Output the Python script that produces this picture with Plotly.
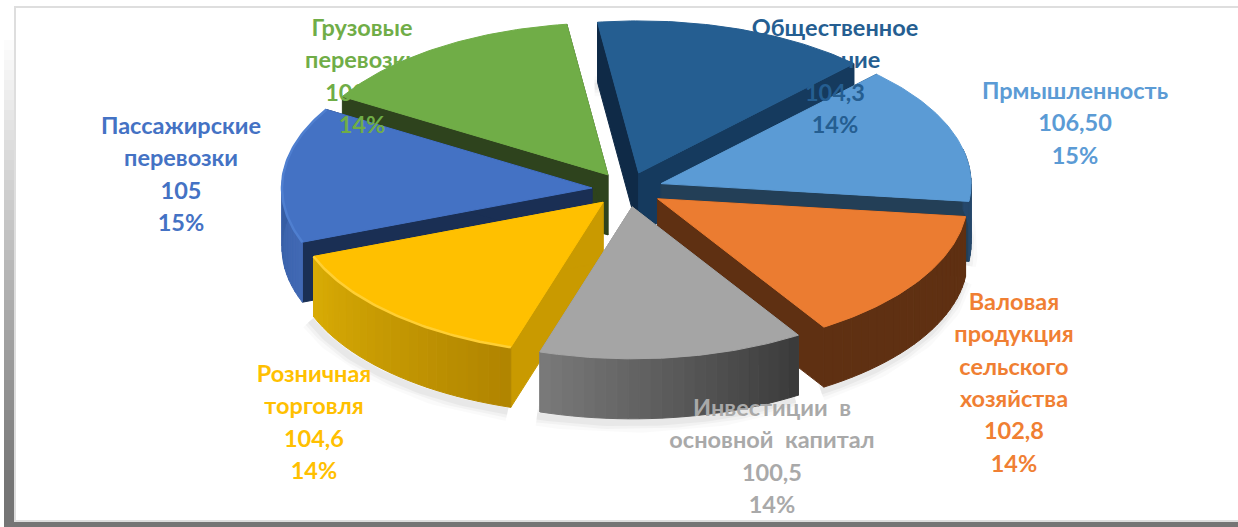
import math
import numpy as np
import plotly.graph_objects as go

# ---- data ----
CATEGORIES = ["Прмышленность", "Валовая продукция сельского хозяйства", "Инвестиции в основной капитал",
              "Розничная торговля", "Пассажирские перевозки", "Грузовые перевозки", "Общественное питание"]
VALUES = [106.5, 102.8, 100.5, 104.6, 105.0, 103.7, 104.3]
VALUE_LABELS = ["106,50", "102,8", "100,5", "104,6", "105", "103,70", "104,3"]
PERCENT_LABELS = ["15%", "14%", "14%", "14%", "15%", "14%", "14%"]
NAME_LINES = [["Прмышленность"], ["Валовая", "продукция", "сельского", "хозяйства"],
              ["Инвестиции\u00a0\u00a0в", "основной\u00a0\u00a0капитал"], ["Розничная", "торговля"],
              ["Пассажирские", "перевозки"], ["Грузовые", "перевозки"], ["Общественное", "питание"]]

# ---- style ----
TOP = ["#5B9BD5", "#EB7C31", "#A5A5A5", "#FFC000", "#4472C4", "#70AD47", "#255E91"]
TEXT = ["#5B9BD5", "#F07F33", "#A9A9A9", "#FFC000", "#4472C4", "#70AD47", "#255E91"]
WALL_START = ["#233F57", "#5F3012", "#4A4A4A", "#C99A00", "#1A2F54", "#2E431D", "#0F2A47"]
WALL_END = ["#233F57", "#5F3012", "#8A8A8A", "#C99A00", "#1A2F54", "#2E431D", "#153A5E"]
ARC_L = ["#26486B", "#5F3012", "#7A7A7A", "#D9AC05", "#2F5597", "#3F6B2A", "#1C4770"]
ARC_R = ["#26486B", "#5F3012", "#3A3A3A", "#B08400", "#4169B5", "#3F6B2A", "#1C4770"]
BEVEL = [None, None, None, "#FFCF33", "#4F7FD0", None, None]
# label placement (centre x, first-line y, line pitch)
LABEL_X = [1075, 1014, 772, 314, 181, 362, 835]
LABEL_Y = [93, 304, 410, 376, 128, 30, 30]
LABEL_PITCH = 32.4
FONT = "Lato"
FONT_SIZE = 23.5

W, H = 1238, 527
CX, CY, RX, RY = 627.5, 189.5, 310, 152
DEPTH, PULL, START = 60, 0.115, 44
PAINT_ORDER = [6, 5, 0, 4, 1, 3, 2]


def pt(a, r=1.0, ox=0.0, oy=0.0):
    return ox + r * RX * math.sin(math.radians(a)), oy - r * RY * math.cos(math.radians(a))


def mix(c1, c2, f):
    a = [int(c1[i:i + 2], 16) for i in (1, 3, 5)]
    b = [int(c2[i:i + 2], 16) for i in (1, 3, 5)]
    return "#%02x%02x%02x" % tuple(round(p + (q - p) * f) for p, q in zip(a, b))


def poly(fig, xs, ys, fill, line=None, width=1):
    fig.add_trace(go.Scatter(x=xs, y=ys, mode="lines", fill="toself", fillcolor=fill,
                             line=dict(color=line or fill, width=width), hoverinfo="skip", showlegend=False))


fig = go.Figure()

# slice angles come from the values
total = sum(VALUES)
spans = [v / total * 360 for v in VALUES]
starts = [START + sum(spans[:i]) for i in range(len(spans))]
geo = []
for a0, sp in zip(starts, spans):
    mid = a0 + sp / 2
    ax, ay = pt(mid, PULL, CX, CY)
    geo.append((a0, a0 + sp, ax, ay))

# soft shadow under the pie
for i in PAINT_ORDER:
    a0, a1, ax, ay = geo[i]
    if 270 < (a0 + a1) / 2 % 360 or (a0 + a1) / 2 % 360 < 10:
        continue
    arc = [pt(a, 1.0, ax, ay + DEPTH) for a in np.linspace(a0, a1, 50)]
    for w, al in ((20, .02), (13, .03), (7, .04)):
        fig.add_trace(go.Scatter(x=[p[0] - 3 for p in arc], y=[p[1] + 4 for p in arc], mode="lines",
                                 line=dict(color=f"rgba(0,0,0,{al})", width=w),
                                 hoverinfo="skip", showlegend=False))

# slices, back to front
for i in PAINT_ORDER:
    a0, a1, ax, ay = geo[i]
    p0 = pt(a0, 1.0, ax, ay)
    p1 = pt(a1, 1.0, ax, ay)
    poly(fig, [ax, p0[0], p0[0], ax, ax], [ay, p0[1], p0[1] + DEPTH, ay + DEPTH, ay], WALL_START[i])
    poly(fig, [ax, p1[0], p1[0], ax, ax], [ay, p1[1], p1[1] + DEPTH, ay + DEPTH, ay], WALL_END[i])
    # curved outer wall, shaded by bands; only the part that faces the viewer
    angles = np.linspace(a0, a1, 25)
    for k in range(len(angles) - 1):
        if math.cos(math.radians((angles[k] + angles[k + 1]) / 2)) > 0.22:
            continue
        q0 = pt(angles[k], 1.0, ax, ay)
        q1 = pt(angles[k + 1], 1.0, ax, ay)
        c = mix(ARC_R[i], ARC_L[i], (k + .5) / (len(angles) - 1))
        poly(fig, [q0[0], q1[0], q1[0], q0[0], q0[0]],
             [q0[1], q1[1], q1[1] + DEPTH, q0[1] + DEPTH, q0[1]], c)
    # top face
    arc = [pt(a, 1.0, ax, ay) for a in np.linspace(a0, a1, 60)]
    poly(fig, [ax] + [p[0] for p in arc] + [ax], [ay] + [p[1] for p in arc] + [ay], TOP[i])
    if BEVEL[i]:
        fig.add_trace(go.Scatter(x=[p[0] for p in arc], y=[p[1] for p in arc], mode="lines",
                                 line=dict(color=BEVEL[i], width=2.5), hoverinfo="skip", showlegend=False))

# labels on top, one text point per line
for i, names in enumerate(NAME_LINES):
    lines = names + [VALUE_LABELS[i], PERCENT_LABELS[i]]
    fig.add_trace(go.Scatter(
        x=[LABEL_X[i]] * len(lines),
        y=[LABEL_Y[i] + n * LABEL_PITCH for n in range(len(lines))],
        mode="text", text=[f"<b>{t}</b>" for t in lines], textposition="middle center",
        textfont=dict(family=FONT, size=FONT_SIZE, color=TEXT[i]),
        name=CATEGORIES[i], hoverinfo="skip", showlegend=False))

# frame
shapes = []
steps = 46
for k in range(steps):
    y0 = 30 + k * (490 - 30) / steps
    shapes.append(dict(type="rect", xref="x", yref="y", x0=4, x1=14, y0=y0, y1=y0 + 11, layer="below",
                       line_width=0, fillcolor=mix("#FFFFFF", "#757575", k / (steps - 1))))
shapes += [
    dict(type="rect", xref="x", yref="y", x0=4, x1=14, y0=488, y1=527, line_width=0, fillcolor="#757575", layer="below"),
    dict(type="rect", xref="x", yref="y", x0=14, x1=W, y0=522, y1=527, line_width=0, fillcolor="#757575", layer="below"),
    dict(type="rect", xref="x", yref="y", x0=14, x1=W, y0=520, y1=522, line_width=0, fillcolor="#DEDEDE", layer="below"),
    dict(type="rect", xref="x", yref="y", x0=14, x1=16, y0=6, y1=521, line_width=0, fillcolor="#DEDEDE", layer="below"),
    dict(type="rect", xref="x", yref="y", x0=14, x1=W, y0=6, y1=8, line_width=0, fillcolor="#DEDEDE", layer="below"),
]

fig.update_layout(
    width=W, height=H, margin=dict(l=0, r=0, t=0, b=0), showlegend=False,
    paper_bgcolor="#FFFFFF", plot_bgcolor="#FFFFFF", shapes=shapes,
    xaxis=dict(range=[0, W], visible=False, fixedrange=True),
    yaxis=dict(range=[H, 0], visible=False, fixedrange=True),
)
fig.write_html("out.html", config=dict(displayModeBar=False),
               post_script="document.body.style.margin='0';document.body.style.overflow='hidden';")
